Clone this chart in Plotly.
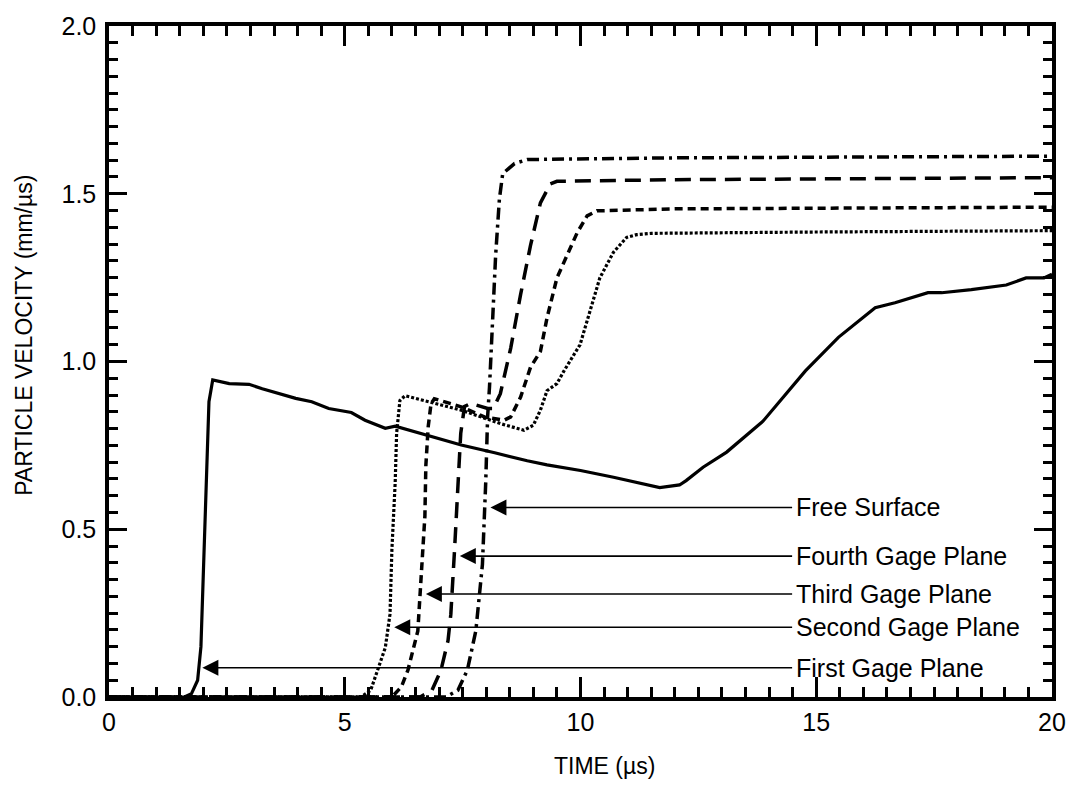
import plotly.graph_objects as go

# ---- data ----
t_first = [0, 1.6, 1.75, 1.88, 1.95, 2.0, 2.06, 2.12, 2.2, 2.55, 2.97, 3.25, 3.96, 4.3, 4.66,
           5.14, 5.43, 5.86, 6.07, 6.77, 7.47, 8.18, 8.87, 9.29, 10.0, 10.7, 11.3, 11.68, 12.1,
           12.24, 12.6, 13.1, 13.87, 14.77, 15.47, 16.25, 16.67, 17.37, 17.66, 18.29, 19.03,
           19.45, 19.83, 20]
v_first = [0, 0, 0.01, 0.05, 0.15, 0.35, 0.65, 0.88, 0.945, 0.934, 0.932, 0.919, 0.89, 0.88, 0.86,
           0.848, 0.825, 0.801, 0.807, 0.778, 0.751, 0.728, 0.704, 0.692, 0.675, 0.655, 0.635, 0.624, 0.632,
           0.645, 0.685, 0.73, 0.822, 0.972, 1.072, 1.16, 1.175, 1.205, 1.205, 1.214, 1.228,
           1.249, 1.249, 1.26]

t_second = [0, 5.35, 5.55, 5.7, 5.86, 5.96, 6.0, 6.07, 6.1, 6.17, 6.28, 7.47, 8.3, 8.8, 9.0, 9.15,
            9.29, 9.5, 9.65, 9.99, 10.2, 10.41, 10.7, 10.98, 11.19, 11.5, 15, 20]
v_second = [0, 0, 0.02, 0.08, 0.147, 0.247, 0.44, 0.64, 0.786, 0.884, 0.898, 0.855, 0.815, 0.795, 0.81, 0.855,
            0.913, 0.934, 0.972, 1.05, 1.149, 1.249, 1.326, 1.37, 1.378, 1.382, 1.386, 1.39]

t_third = [0, 6.0, 6.2, 6.34, 6.55, 6.62, 6.7, 6.72, 6.77, 6.83, 6.9, 7.47, 7.96, 8.38, 8.52, 8.73,
           8.94, 9.15, 9.29, 9.5, 9.72, 9.93, 10.14, 10.35, 12, 20]
v_third = [0, 0, 0.03, 0.08, 0.197, 0.345, 0.54, 0.69, 0.806, 0.874, 0.889, 0.865, 0.835, 0.825, 0.835, 0.894,
           0.983, 1.03, 1.13, 1.249, 1.316, 1.384, 1.434, 1.449, 1.455, 1.46]

t_fourth = [0, 6.6, 6.85, 7.04, 7.19, 7.25, 7.33, 7.4, 7.46, 7.54, 7.67, 8.03, 8.15, 8.3, 8.52, 8.73,
            8.94, 9.15, 9.36, 9.5, 12, 20]
v_fourth = [0, 0, 0.02, 0.08, 0.168, 0.247, 0.442, 0.64, 0.786, 0.866, 0.875, 0.86, 0.86, 0.904, 1.04, 1.2,
            1.346, 1.473, 1.529, 1.537, 1.542, 1.548]

t_free = [0, 7.15, 7.4, 7.6, 7.78, 7.92, 7.99, 8.03, 8.07, 8.13, 8.2, 8.28, 8.35, 8.6, 8.87, 12, 20]
v_free = [0, 0, 0.02, 0.08, 0.197, 0.395, 0.64, 0.835, 0.924, 1.12, 1.316, 1.484, 1.56, 1.59, 1.602, 1.607, 1.612]

label_names = ["Free Surface", "Fourth Gage Plane", "Third Gage Plane", "Second Gage Plane", "First Gage Plane"]
label_y = [0.565, 0.42, 0.307, 0.208, 0.087]
arrow_tip_t = [8.09, 7.44, 6.72, 6.05, 1.98]
label_t = 14.52

x_ticks = [0, 5, 10, 15, 20]
y_ticks = [0.0, 0.5, 1.0, 1.5, 2.0]

FONT = "Liberation Sans, Arial, Helvetica, sans-serif"
TICK_SIZE = 25
LABEL_SIZE = 25
TITLE_SIZE = 23

fig = go.Figure()
series = [
    (t_first, v_first, "solid", 3.2),
    (t_second, v_second, "3px,2px", 3.2),
    (t_third, v_third, "8px,5px", 3.5),
    (t_fourth, v_fourth, "16px,9px", 3.5),
    (t_free, v_free, "12px,5px,3px,5px", 3.5),
]
for tx, vy, dash, w in series:
    fig.add_trace(go.Scatter(x=tx, y=vy, mode="lines",
                             line=dict(color="black", width=w, dash=dash),
                             showlegend=False, hoverinfo="skip"))

annotations = []
for name, yv, tip in zip(label_names, label_y, arrow_tip_t):
    annotations.append(dict(x=tip, y=yv, ax=label_t, ay=yv, xref="x", yref="y",
                            axref="x", ayref="y", text="", showarrow=True,
                            arrowhead=2, arrowsize=2.0, arrowwidth=1.6, arrowcolor="black"))
    annotations.append(dict(x=label_t, y=yv, xref="x", yref="y", text=name,
                            showarrow=False, xanchor="left", yanchor="middle",
                            font=dict(family=FONT, size=LABEL_SIZE, color="black")))

annotations.append(dict(x=-0.0896, y=0.539, xref="paper", yref="paper",
                        text="PARTICLE VELOCITY (mm/µs)", textangle=-90, showarrow=False,
                        xanchor="center", yanchor="middle",
                        font=dict(family=FONT, size=TITLE_SIZE, color="black")))
annotations.append(dict(x=0.525, y=-0.103, xref="paper", yref="paper",
                        text="TIME (µs)", showarrow=False,
                        xanchor="center", yanchor="middle",
                        font=dict(family=FONT, size=TITLE_SIZE, color="black")))

fig.update_layout(
    width=1078, height=796, autosize=False,
    margin=dict(l=109, r=18, t=18, b=99),
    paper_bgcolor="white", plot_bgcolor="white",
    font=dict(family=FONT, size=TICK_SIZE, color="black"),
    annotations=annotations,
)
fig.update_xaxes(range=[0, 20], tickvals=x_ticks, ticktext=[str(v) for v in x_ticks],
                 ticks="inside", ticklen=20, tickwidth=2.5, tickcolor="black",
                 minor=dict(dtick=0.5, ticks="inside", ticklen=10, tickwidth=2.5, tickcolor="black"),
                 showline=True, linewidth=3.5, linecolor="black", mirror="ticks",
                 showgrid=False, zeroline=False, ticklabelstandoff=0,
                 tickfont=dict(family=FONT, size=TICK_SIZE, color="black"))
fig.update_yaxes(range=[0, 2], tickvals=y_ticks, ticktext=[f"{v:.1f}" for v in y_ticks],
                 ticks="inside", ticklen=18, tickwidth=2.5, tickcolor="black",
                 minor=dict(dtick=0.05, ticks="inside", ticklen=9, tickwidth=2.5, tickcolor="black"),
                 showline=True, linewidth=3.5, linecolor="black", mirror="ticks",
                 showgrid=False, zeroline=False, ticklabelstandoff=4,
                 tickfont=dict(family=FONT, size=TICK_SIZE, color="black"))

fig.write_html("out.html")
